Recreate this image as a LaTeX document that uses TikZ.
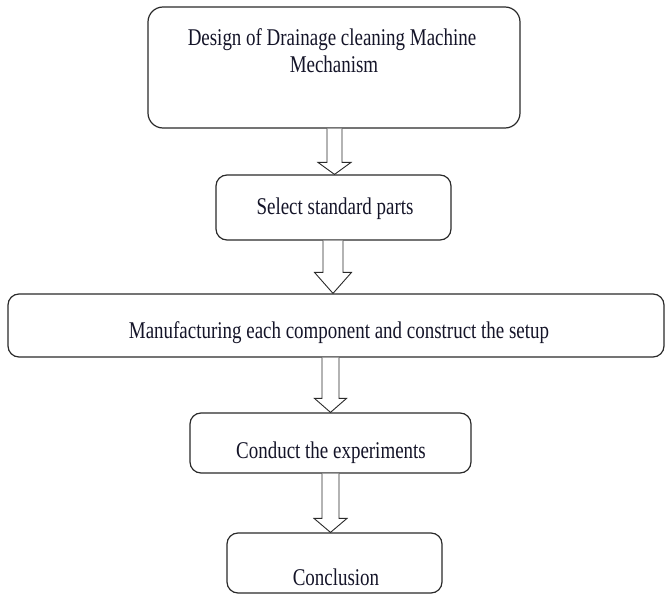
\documentclass[tikz,border=0pt]{standalone}
\usepackage{fontspec}
\setmainfont{Liberation Serif}[FakeStretch=0.79]
\usetikzlibrary{calc}
\definecolor{edge}{HTML}{2A2A2A}
\definecolor{ink}{HTML}{141428}
\tikzset{
  box/.style={draw=edge, line width=1.2pt, rounded corners=11pt, minimum width=#1, inner sep=0pt},
  lbl/.style={anchor=base, inner sep=0pt, text=ink, font=\fontsize{24}{27}\selectfont},
  blk/.style={draw=edge, line width=0.9pt, fill=white, line join=miter}
}
% #1 source, #2 target, #3 centre x, #4 shaft half width, #5 head half width, #6 head length
\newcommand\blkarrow[6]{%
  \draw[blk] let \p1=(#1.south), \p2=(#2.north) in
    ({#3pt-#4pt},\y1) -- ({#3pt-#4pt},\y2+#6pt) -- ({#3pt-#5pt},\y2+#6pt) --
    (#3pt,\y2) -- ({#3pt+#5pt},\y2+#6pt) -- ({#3pt+#4pt},\y2+#6pt) --
    ({#3pt+#4pt},\y1);
}
\begin{document}
\begin{tikzpicture}[x=1pt,y=-1pt]
\useasboundingbox (0,0) rectangle (665,594);
\node[box=372pt, minimum height=121pt, rounded corners=15pt] (b1) at (334,67.5) {};
\node[box=235pt, minimum height=65pt] (b2) at (333.5,207.5) {};
\node[box=656pt, minimum height=63pt] (b3) at (336,325.5) {};
\node[box=281pt, minimum height=60pt] (b4) at (330.5,443) {};
\node[box=215pt, minimum height=60pt] (b5) at (334.5,563) {};

\node[lbl] (t1a) at (332,46) {Design of Drainage cleaning Machine};
\node[lbl] (t1b) at (334,73) {Mechanism};
\node[lbl] (t2) at (335,214) {Select standard parts};
\node[lbl] (t3) at (339,338) {Manufacturing each component and construct the setup};
\node[lbl] (t4) at (331,458) {Conduct the experiments};
\node[lbl] (t5) at (336,585) {Conclusion};

\blkarrow{b1}{b2}{334.5}{7.5}{16.5}{12}
\blkarrow{b2}{b3}{333}{10}{18.5}{21}
\blkarrow{b3}{b4}{330.5}{8.5}{16}{14}
\blkarrow{b4}{b5}{330.5}{8.5}{16.5}{14}
\end{tikzpicture}
\end{document}
